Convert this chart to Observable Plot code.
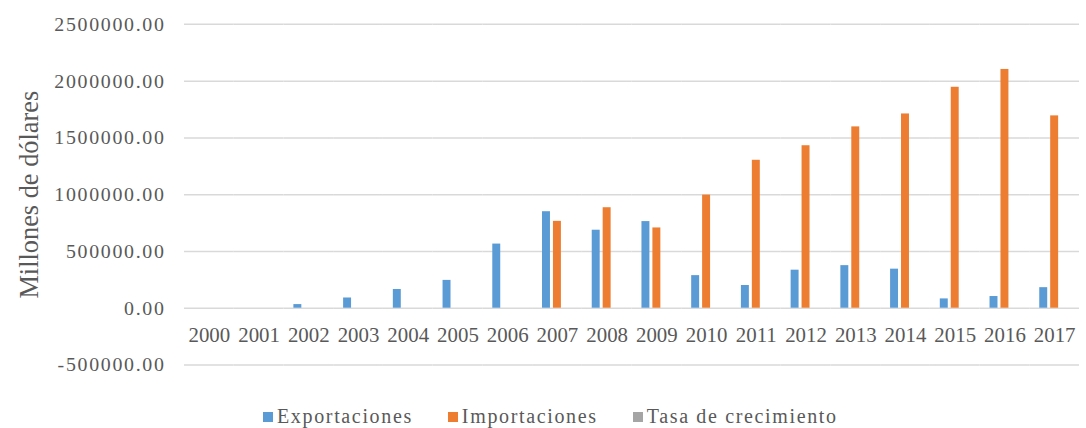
<!DOCTYPE html>
<html>
<head>
<meta charset="utf-8">
<script src="https://cdn.jsdelivr.net/npm/d3@7"></script>
<script src="https://cdn.jsdelivr.net/npm/@observablehq/plot@0.6"></script>
<style>
html, body { margin: 0; padding: 0; overflow: hidden; background: #fff; width: 1086px; height: 428px; }
#chart { position: absolute; left: 0; top: 0; }
#legend { position: absolute; left: 263px; top: 405px; }
g[aria-label="y-axis tick label"] { letter-spacing: 1.7px; }
g[aria-label="year label"] { letter-spacing: 0.9px; }
.leg-swatches { margin: 0 !important; font-family: "Liberation Serif", serif !important; font-size: 20px !important; color: #595959 !important; letter-spacing: 1.65px; min-height: 0 !important; }
.leg-swatch { margin-right: 35px !important; }
.leg-swatch > svg { margin-right: 4px !important; }
</style>
</head>
<body>
<div id="chart"></div>
<div id="legend"></div>
<script>
const years = ["2000","2001","2002","2003","2004","2005","2006","2007","2008","2009","2010","2011","2012","2013","2014","2015","2016","2017"];
const series = ["Exportaciones", "Importaciones", "Tasa de crecimiento"];
const colors = ["#5b9bd5", "#ed7d31", "#a5a5a5"];
const exportaciones = [0, 0, 32000, 90000, 165000, 245000, 565000, 850000, 687000, 763000, 287000, 200000, 335000, 375000, 344000, 82000, 103000, 181000];
const importaciones = [0, 0, 0, 0, 0, 0, 0, 765000, 885000, 707000, 996000, 1303000, 1431000, 1597000, 1711000, 1946000, 2103000, 1694000];
const tasaCrecimiento = [0, 0, 0, 0, 0, 0, 0, 0, 0, 0, 0, 0, 0, 0, 0, 0, 0, 0];
const yTicks = [-500000, 0, 500000, 1000000, 1500000, 2000000, 2500000];
const yTitle = "Millones de dólares";

const seriesValues = [exportaciones, importaciones, tasaCrecimiento];
const data = years.flatMap((yr, i) => series.map((s, k) => ({year: yr, series: s, value: seriesValues[k][i]})));

const chart = Plot.plot({
  width: 1092,
  height: 400,
  marginLeft: 177,
  marginRight: 0,
  marginTop: 24,
  marginBottom: 33.5,
  style: {fontFamily: '"Liberation Serif", serif', color: "#595959", background: "white", overflow: "visible"},
  fx: {domain: years, padding: 0, axis: null},
  x: {domain: series, paddingInner: 0.237, paddingOuter: 0.853, axis: null},
  y: {domain: [-500000, 2500000]},
  color: {domain: series, range: colors},
  marks: [
    Plot.gridY(yTicks, {stroke: "#d9d9d9", strokeOpacity: 1, strokeWidth: 1.5}),
    Plot.axisY(yTicks, {tickSize: 0, tickPadding: 19, tickFormat: d => d.toFixed(2), fontSize: 20, label: null, fill: "#595959"}),
    Plot.axisY({ticks: [], tickSize: 0, label: yTitle, labelArrow: "none", labelAnchor: "center", labelOffset: 166, fontSize: 26.5, fill: "#595959"}),
    Plot.barY(data, {fx: "year", x: "series", y: "value", fill: "series"}),
    Plot.text(years, {fx: d => d, y: 0, text: d => d, dy: 27.5, fontSize: 21, fill: "#595959", ariaLabel: "year label"})
  ]
});
document.getElementById("chart").appendChild(chart);

const legend = Plot.legend({color: {domain: series, range: colors}, swatchSize: 10, className: "leg"});
document.getElementById("legend").appendChild(legend);
</script>
</body>
</html>
